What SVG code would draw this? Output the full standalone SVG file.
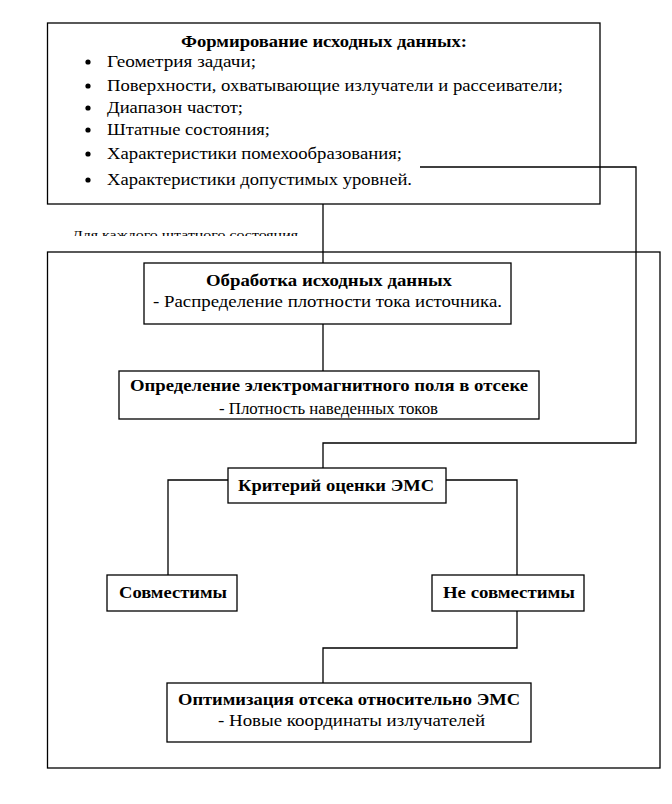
<svg xmlns="http://www.w3.org/2000/svg" width="672" height="804" viewBox="0 0 672 804">
<style>
.box{fill:#fff;stroke:#000;stroke-width:1.3}
.frame{fill:none;stroke:#000;stroke-width:1.3}
.ln{fill:none;stroke:#000;stroke-width:1.3}
text{font-family:"Liberation Serif","Times New Roman",serif;font-size:17px;fill:#000}
.b{font-weight:bold}
.m{text-anchor:middle}
.s{font-size:13px}
</style>
<defs>
<clipPath id="cl"><rect x="60" y="220" width="260" height="16"/></clipPath>
</defs>
<rect width="672" height="804" fill="#fff"/>
<g id="outer-frame">
<rect class="frame" x="47.5" y="252" width="612.5" height="516"/>
</g>
<g id="label-each-state">
<text class="s" x="72" y="239" textLength="226" lengthAdjust="spacingAndGlyphs" clip-path="url(#cl)">Для каждого штатного состояния</text>
</g>
<g id="node-input">
<rect class="box" x="47.5" y="23" width="552.5" height="181"/>
<text class="b m" x="324" y="47" textLength="286" lengthAdjust="spacingAndGlyphs">Формирование исходных данных:</text>
<g>
<circle cx="88" cy="62" r="2.6"/>
<circle cx="88" cy="86" r="2.6"/>
<circle cx="88" cy="108" r="2.6"/>
<circle cx="88" cy="130" r="2.6"/>
<circle cx="88" cy="154" r="2.6"/>
<circle cx="88" cy="180" r="2.6"/>
</g>
<text x="107" y="67" textLength="149" lengthAdjust="spacingAndGlyphs">Геометрия задачи;</text>
<text x="107" y="91" textLength="456" lengthAdjust="spacingAndGlyphs">Поверхности, охватывающие излучатели и рассеиватели;</text>
<text x="107" y="113" textLength="136" lengthAdjust="spacingAndGlyphs">Диапазон частот;</text>
<text x="107" y="135" textLength="163" lengthAdjust="spacingAndGlyphs">Штатные состояния;</text>
<text x="107" y="159" textLength="295" lengthAdjust="spacingAndGlyphs">Характеристики помехообразования;</text>
<text x="107" y="185" textLength="305" lengthAdjust="spacingAndGlyphs">Характеристики допустимых уровней.</text>
</g>
<g id="node-processing">
<rect class="box" x="144" y="263" width="367" height="61"/>
<text class="b m" x="329" y="286" textLength="246" lengthAdjust="spacingAndGlyphs">Обработка исходных данных</text>
<text class="m" x="327.5" y="307" textLength="349" lengthAdjust="spacingAndGlyphs">- Распределение плотности тока источника.</text>
</g>
<g id="node-field">
<rect class="box" x="119" y="371" width="420" height="48"/>
<text class="b m" x="329" y="391" textLength="398" lengthAdjust="spacingAndGlyphs">Определение электромагнитного поля в отсеке</text>
<text class="m" x="328.5" y="414" textLength="219" lengthAdjust="spacingAndGlyphs">- Плотность наведенных токов</text>
</g>
<g id="node-criterion">
<rect class="box" x="228" y="468" width="218" height="35"/>
<text class="b m" x="336" y="491" textLength="196" lengthAdjust="spacingAndGlyphs">Критерий оценки ЭМС</text>
</g>
<g id="node-compatible">
<rect class="box" x="107" y="575" width="130" height="36"/>
<text class="b m" x="173" y="598" textLength="108" lengthAdjust="spacingAndGlyphs">Совместимы</text>
</g>
<g id="node-incompatible">
<rect class="box" x="432" y="575" width="152" height="36"/>
<text class="b m" x="509" y="598" textLength="132" lengthAdjust="spacingAndGlyphs">Не совместимы</text>
</g>
<g id="node-optimization">
<rect class="box" x="167" y="683" width="364" height="59"/>
<text class="b m" x="349" y="705" textLength="342" lengthAdjust="spacingAndGlyphs">Оптимизация отсека относительно ЭМС</text>
<text class="m" x="351.5" y="726" textLength="267" lengthAdjust="spacingAndGlyphs">- Новые координаты излучателей</text>
</g>
<g id="connectors">
<path class="ln" d="M323 204V263"/>
<path class="ln" d="M420 167H636V443H323V468"/>
<path class="ln" d="M323 324V371"/>
<path class="ln" d="M228 480H168V575"/>
<path class="ln" d="M446 480H517V575"/>
<path class="ln" d="M517 611V648H323V683"/>
</g>
</svg>
